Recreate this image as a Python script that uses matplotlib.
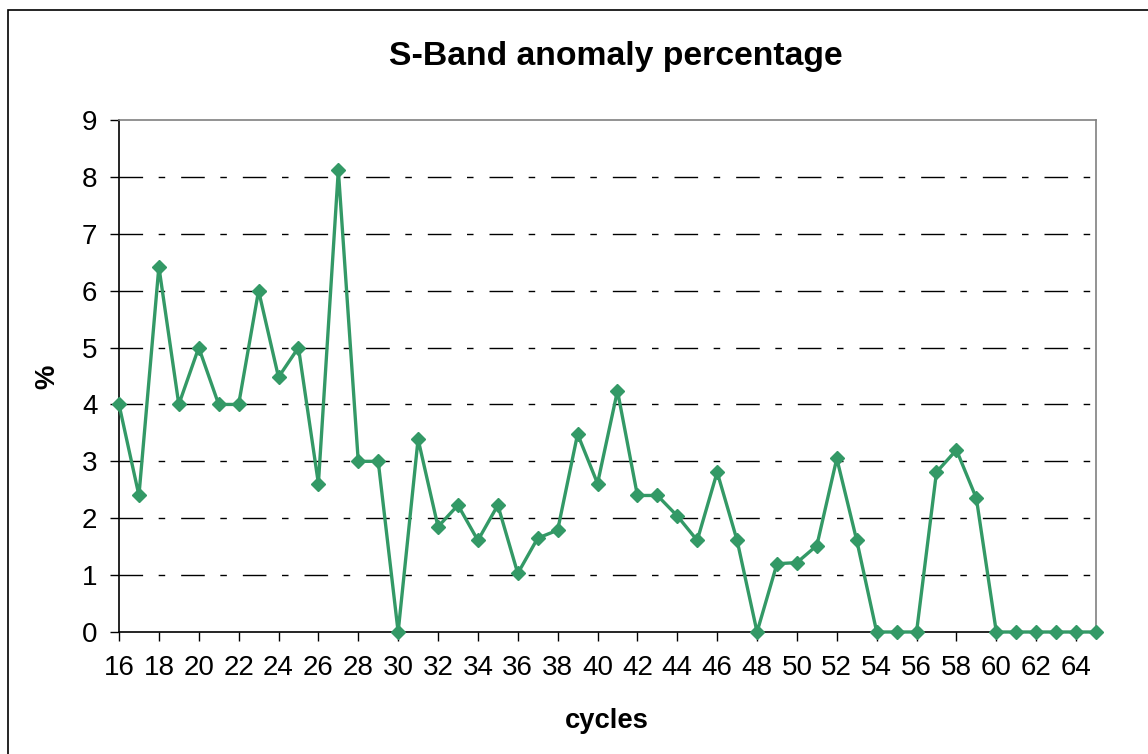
import matplotlib
matplotlib.use("Agg")
import matplotlib.pyplot as plt
from matplotlib.patches import Rectangle

cycles = list(range(16, 66))
anomaly_pct = [4.0, 2.4, 6.42, 4.0, 5.0, 4.0, 4.0, 6.0, 4.48, 5.0,
               2.61, 8.12, 3.0, 3.0, 0.0, 3.39, 1.85, 2.23, 1.61, 2.23,
               1.03, 1.65, 1.79, 3.48, 2.61, 4.24, 2.4, 2.4, 2.04, 1.61,
               2.81, 1.61, 0.0, 1.2, 1.22, 1.52, 3.05, 1.61, 0.0, 0.0,
               0.0, 2.81, 3.2, 2.35, 0.0, 0.0, 0.0, 0.0, 0.0, 0.0]
x_ticks = list(range(16, 65, 2))
y_ticks = list(range(0, 10))

title = "S-Band anomaly percentage"
x_label = "cycles"
y_label = "%"

plt.rcParams['font.family'] = ['Liberation Sans', 'DejaVu Sans']

W, H = 1148, 754
fig = plt.figure(figsize=(W / 100, H / 100), dpi=100)
fig.patch.set_facecolor("white")

# outer chart border
fig.patches.append(Rectangle((8 / W, -0.1), 1.2, 1 - 10 / H + 0.1,
                             transform=fig.transFigure, fill=False,
                             edgecolor="black", linewidth=1.2))

left, right, top, bottom = 119, 1096, 120, 632
ax = fig.add_axes([left / W, 1 - bottom / H, (right - left) / W, (bottom - top) / H])

color = "#339966"
ax.plot(cycles, anomaly_pct, color=color, linewidth=2.4, marker="D",
        markersize=7.5, markerfacecolor=color, markeredgecolor=color,
        clip_on=False, zorder=5)

ax.set_xlim(16, 65)
ax.set_ylim(0, 9)
ax.set_xticks(x_ticks)
ax.set_xticklabels([str(v) for v in x_ticks])
ax.set_yticks(y_ticks)
ax.set_yticklabels([str(v) for v in y_ticks])

for yv in y_ticks[1:-1]:
    ax.axhline(yv, color="black", linewidth=1.0, dashes=(17, 11.2, 4.7, 11.5),
               zorder=1)

ax.spines["left"].set_color("black")
ax.spines["bottom"].set_color("black")
ax.spines["top"].set_color("#808080")
ax.spines["right"].set_color("#808080")
for s in ax.spines.values():
    s.set_linewidth(1.2)

ax.tick_params(axis="both", direction="out", length=6.5, width=1.0,
               labelsize=20, color="black")
ax.tick_params(axis="y", pad=9)
ax.tick_params(axis="x", pad=10)

fig.text(616 / W, 1 - 56 / H, title, ha="center", va="center",
         fontsize=24.3, fontweight="bold")
fig.text(607 / W, 1 - 721 / H, x_label, ha="center", va="center",
         fontsize=19.7, fontweight="bold")
fig.text(47 / W, 1 - 377 / H, y_label, ha="center", va="center",
         fontsize=19.7, fontweight="bold", rotation=90)

fig.savefig("out.png", dpi=100)
